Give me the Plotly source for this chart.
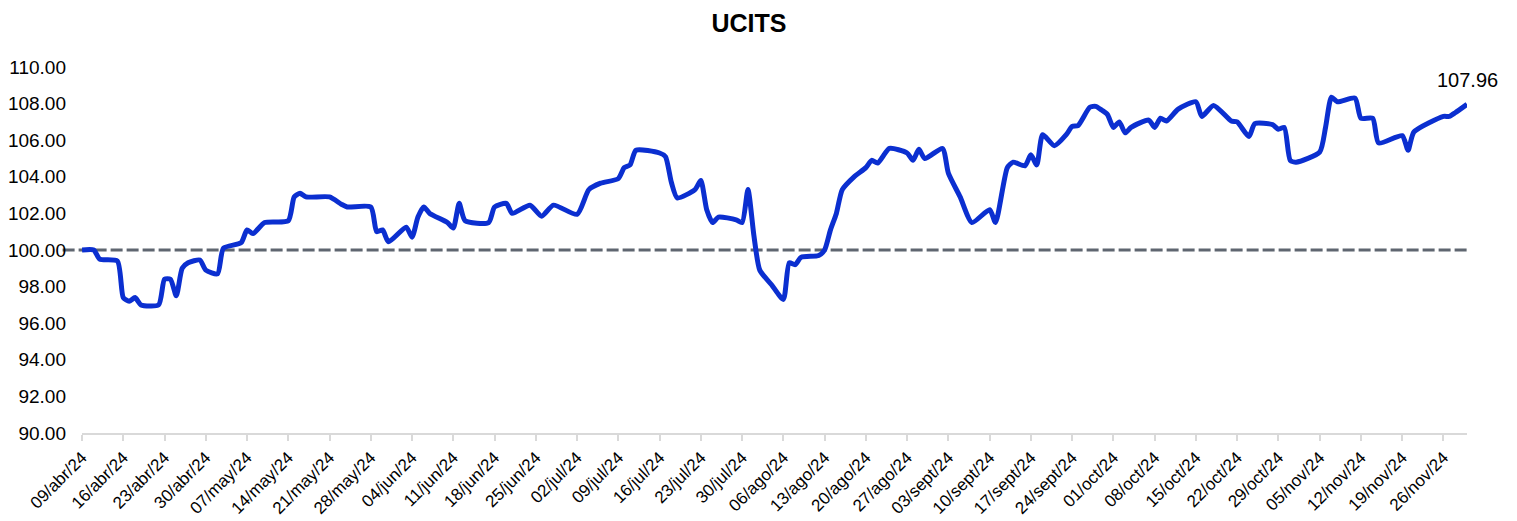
import pandas as pd
import plotly.graph_objects as go

# ---- data ----
dates = [
    "2024-04-09", "2024-04-11", "2024-04-12", "2024-04-15", "2024-04-16", "2024-04-17", "2024-04-18",
    "2024-04-19", "2024-04-22", "2024-04-23", "2024-04-24", "2024-04-25", "2024-04-26", "2024-04-27",
    "2024-04-29", "2024-04-30", "2024-05-02", "2024-05-03", "2024-05-06", "2024-05-07", "2024-05-08",
    "2024-05-10", "2024-05-14", "2024-05-15", "2024-05-16", "2024-05-17", "2024-05-21", "2024-05-23",
    "2024-05-24", "2024-05-28", "2024-05-29", "2024-05-30", "2024-05-31", "2024-06-03", "2024-06-04",
    "2024-06-05", "2024-06-06", "2024-06-07", "2024-06-10", "2024-06-11", "2024-06-12", "2024-06-13",
    "2024-06-17", "2024-06-18", "2024-06-20", "2024-06-21", "2024-06-24", "2024-06-26", "2024-06-28",
    "2024-07-02", "2024-07-04", "2024-07-06", "2024-07-09", "2024-07-10", "2024-07-11", "2024-07-12",
    "2024-07-16", "2024-07-17", "2024-07-18", "2024-07-19", "2024-07-22", "2024-07-23", "2024-07-24",
    "2024-07-25", "2024-07-26", "2024-07-29", "2024-07-30", "2024-07-31", "2024-08-01", "2024-08-02",
    "2024-08-04", "2024-08-06", "2024-08-07", "2024-08-08", "2024-08-09", "2024-08-12", "2024-08-13",
    "2024-08-14", "2024-08-15", "2024-08-16", "2024-08-18", "2024-08-20", "2024-08-21", "2024-08-22",
    "2024-08-24", "2024-08-27", "2024-08-28", "2024-08-29", "2024-08-30", "2024-09-02", "2024-09-03",
    "2024-09-05", "2024-09-07", "2024-09-10", "2024-09-11", "2024-09-13", "2024-09-14", "2024-09-16",
    "2024-09-17", "2024-09-18", "2024-09-19", "2024-09-21", "2024-09-23", "2024-09-24", "2024-09-25",
    "2024-09-27", "2024-09-28", "2024-09-29", "2024-09-30", "2024-10-01", "2024-10-02", "2024-10-03",
    "2024-10-04", "2024-10-07", "2024-10-08", "2024-10-09", "2024-10-10", "2024-10-12", "2024-10-15",
    "2024-10-16", "2024-10-18", "2024-10-21", "2024-10-22", "2024-10-24", "2024-10-25", "2024-10-28",
    "2024-10-29", "2024-10-30", "2024-10-31", "2024-11-01", "2024-11-05", "2024-11-06", "2024-11-07",
    "2024-11-08", "2024-11-11", "2024-11-12", "2024-11-14", "2024-11-15", "2024-11-19", "2024-11-20",
    "2024-11-21", "2024-11-26", "2024-11-27", "2024-11-28", "2024-11-30",
]
ucits = [
    100.00, 100.00, 99.50, 99.40, 97.40, 97.20, 97.40,
    97.00, 97.00, 98.40, 98.40, 97.50, 99.00, 99.30,
    99.45, 98.90, 98.70, 100.10, 100.40, 101.10, 100.90,
    101.50, 101.60, 102.90, 103.10, 102.90, 102.90, 102.50,
    102.35, 102.35, 101.00, 101.10, 100.45, 101.25, 100.70,
    101.80, 102.35, 102.00, 101.50, 101.20, 102.55, 101.60,
    101.50, 102.35, 102.55, 102.00, 102.45, 101.85, 102.45,
    101.95, 103.30, 103.65, 103.90, 104.50, 104.65, 105.45,
    105.30, 105.10, 103.70, 102.85, 103.30, 103.80, 102.20,
    101.50, 101.80, 101.65, 101.50, 103.30, 100.80, 98.90,
    98.10, 97.30, 99.30, 99.20, 99.60, 99.70, 100.00,
    101.10, 102.00, 103.30, 104.00, 104.50, 104.90, 104.75,
    105.55, 105.30, 104.90, 105.50, 105.00, 105.55, 104.20,
    102.90, 101.50, 102.20, 101.50, 104.50, 104.80, 104.60,
    105.20, 104.65, 106.30, 105.70, 106.30, 106.75, 106.80,
    107.80, 107.85, 107.65, 107.40, 106.70, 107.00, 106.40,
    106.70, 107.10, 106.70, 107.20, 107.05, 107.70, 108.10,
    107.30, 107.90, 107.05, 107.00, 106.20, 106.90, 106.85,
    106.60, 106.70, 104.90, 104.80, 105.35, 106.70, 108.35,
    108.10, 108.30, 107.20, 107.20, 105.85, 106.25, 105.45,
    106.45, 107.30, 107.30, 107.50, 107.96,
]
baseline_value = 100.0
last_label = "107.96"

tick_labels = [
    "09/abr/24", "16/abr/24", "23/abr/24", "30/abr/24", "07/may/24", "14/may/24", "21/may/24",
    "28/may/24", "04/jun/24", "11/jun/24", "18/jun/24", "25/jun/24", "02/jul/24", "09/jul/24",
    "16/jul/24", "23/jul/24", "30/jul/24", "06/ago/24", "13/ago/24", "20/ago/24", "27/ago/24",
    "03/sept/24", "10/sept/24", "17/sept/24", "24/sept/24", "01/oct/24", "08/oct/24", "15/oct/24",
    "22/oct/24", "29/oct/24", "05/nov/24", "12/nov/24", "19/nov/24", "26/nov/24",
]
y_ticks = [90, 92, 94, 96, 98, 100, 102, 104, 106, 108, 110]

x = pd.to_datetime(dates)
tick_vals = pd.date_range(start=x[0], periods=len(tick_labels), freq="7D")

FONT = "Liberation Sans, Arial, sans-serif"

# page body has an 8px default margin; figure sized to fit inside the 1517x521 window
W, H = 1509, 513

fig = go.Figure()
fig.add_trace(go.Scatter(
    x=x, y=ucits, mode="lines",
    line=dict(color="#0b2fd0", width=5, shape="spline", smoothing=0.6),
    hoverinfo="x+y", showlegend=False, cliponaxis=False,
))

# dashed 100 reference line
fig.add_shape(type="line", xref="paper", yref="y", x0=-0.014, x1=1.0,
              y0=baseline_value, y1=baseline_value,
              line=dict(color="#5f6670", width=3, dash="12px,4px"), layer="below")

fig.add_annotation(x=x[-1], y=ucits[-1], text=last_label, showarrow=False,
                   xanchor="center", yanchor="bottom", yshift=11,
                   font=dict(family=FONT, size=20, color="#000000"))

fig.update_layout(
    width=W, height=H,
    margin=dict(l=74, r=50, t=59, b=88, autoexpand=False),
    paper_bgcolor="white", plot_bgcolor="white",
    font=dict(family=FONT, color="#000000"),
    title=dict(text="<b>UCITS</b>", x=741 / W, xref="container", xanchor="center",
               y=1 - 15 / H, yref="container", yanchor="middle",
               font=dict(family=FONT, size=25, color="#000000")),
    showlegend=False,
)
fig.update_xaxes(
    type="date", range=[x[0], x[-1]], automargin=False,
    tickvals=tick_vals, ticktext=tick_labels, tickangle=-45,
    tickfont=dict(family=FONT, size=17, color="#000000"),
    showgrid=False, zeroline=False,
    showline=True, linecolor="#d9d9d9", linewidth=2,
    ticks="outside", ticklen=6, tickcolor="#d9d9d9", tickwidth=2,
)
fig.update_yaxes(
    range=[90, 110], tickvals=y_ticks, tickformat=".2f", automargin=False,
    tickfont=dict(family=FONT, size=19, color="#000000"),
    showgrid=False, zeroline=False, showline=False, ticks="",
    ticklabelstandoff=15,
)

fig.write_html("out.html")
